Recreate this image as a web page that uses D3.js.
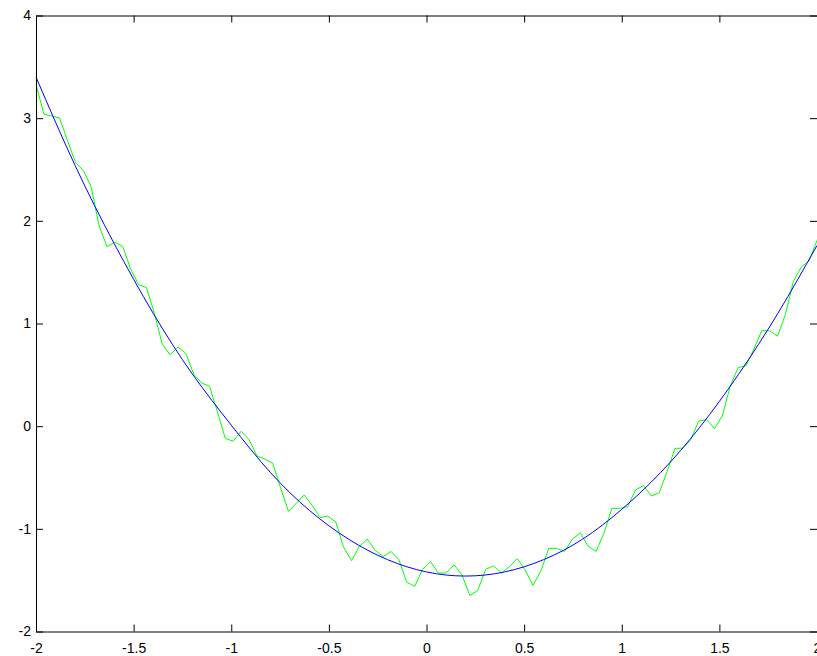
<!DOCTYPE html>
<html>
<head>
<meta charset="utf-8">
<script src="https://cdn.jsdelivr.net/npm/d3@7"></script>
<style>
  html, body { margin: 0; padding: 0; background: #fff; }
  svg { display: block; }
  text { font-family: "Liberation Sans", Arial, sans-serif; font-size: 14px; fill: #000; }
</style>
</head>
<body>
<svg id="chart" width="817" height="656"></svg>
<script>
// ---- data ----
const xTicks = [-2, -1.5, -1, -0.5, 0, 0.5, 1, 1.5, 2];
const yTicks = [-2, -1, 0, 1, 2, 3, 4];

// smooth (fitted) curve, read at x = -2, -1.8, ..., 2
const smoothX = [-2, -1.8, -1.6, -1.4, -1.2, -1.0, -0.8, -0.6, -0.4, -0.2, 0,
                 0.2, 0.4, 0.6, 0.8, 1.0, 1.2, 1.4, 1.6, 1.8, 2];
const smoothY = [3.40, 2.54, 1.78, 1.10, 0.51, 0.01, -0.45, -0.82, -1.10, -1.30, -1.42,
                 -1.46, -1.42, -1.30, -1.10, -0.81, -0.45, -0.01, 0.51, 1.10, 1.76];

// noisy data: 100 samples evenly spaced from -2 to 2
const noisyY = [
  3.33, 3.04, 3.02, 3.00, 2.78, 2.57, 2.49, 2.33, 1.95, 1.75,
  1.79, 1.75, 1.53, 1.38, 1.35, 1.10, 0.80, 0.695, 0.773, 0.708,
  0.506, 0.42, 0.39, 0.14, -0.12, -0.146, -0.05, -0.13, -0.29, -0.32,
  -0.36, -0.60, -0.83, -0.75, -0.67, -0.77, -0.89, -0.876, -0.935, -1.18,
  -1.31, -1.17, -1.10, -1.21, -1.27, -1.22, -1.30, -1.52, -1.56, -1.395,
  -1.32, -1.43, -1.43, -1.35, -1.45, -1.65, -1.60, -1.395, -1.36, -1.43,
  -1.37, -1.29, -1.40, -1.55, -1.41, -1.19, -1.19, -1.22, -1.10, -1.04,
  -1.17, -1.22, -1.04, -0.80, -0.80, -0.785, -0.62, -0.58, -0.68, -0.65,
  -0.44, -0.217, -0.214, -0.13, 0.05, 0.065, -0.025, 0.10, 0.39, 0.57,
  0.59, 0.75, 0.93, 0.93, 0.876, 1.09, 1.41, 1.55, 1.61, 1.81
];
const noisyX = d3.range(noisyY.length).map(i => -2 + 4 * i / (noisyY.length - 1));

// ---- layout ----
const svg = d3.select("#chart");
const padL = 36, padR = 817, padT = 15.5, padB = 631.5;

const x = d3.scaleLinear().domain([-2, 2]).range([padL, padR]);
const y = d3.scaleLinear().domain([-2, 4]).range([padB, padT]);

const tickLen = 7;
const fmt = d => String(d);   // plain hyphen-minus like the reference

// curves
const plot = svg.append("g");
plot.append("path")
  .datum(noisyX.map((d, i) => [d, noisyY[i]]))
  .attr("fill", "none").attr("stroke", "#00ff00").attr("stroke-width", 1)
  .attr("d", d3.line().x(d => x(d[0])).y(d => y(d[1])));

plot.append("path")
  .datum(smoothX.map((d, i) => [d, smoothY[i]]))
  .attr("fill", "none").attr("stroke", "#0000ff").attr("stroke-width", 1)
  .attr("d", d3.line().curve(d3.curveNatural).x(d => x(d[0])).y(d => y(d[1])));

// axes (MATLAB-style box with inward ticks)
const bottomAxis = d3.axisBottom(x).tickValues(xTicks).tickFormat(fmt).tickSizeInner(-tickLen).tickSizeOuter(0).tickPadding(12);
const topAxis = d3.axisTop(x).tickValues(xTicks).tickFormat("").tickSizeInner(-tickLen).tickSizeOuter(0);
const leftAxis = d3.axisLeft(y).tickValues(yTicks).tickFormat(fmt).tickSizeInner(-tickLen).tickSizeOuter(0).tickPadding(5);
const rightAxis = d3.axisRight(y).tickValues(yTicks).tickFormat("").tickSizeInner(-tickLen).tickSizeOuter(0);

function styleAxis(g) {
  g.selectAll(".domain").attr("stroke", "#000").attr("stroke-width", 1);
  g.selectAll(".tick line").attr("stroke", "#000").attr("stroke-width", 1);
  g.selectAll(".tick text").attr("font-family", "Liberation Sans, Arial, sans-serif").attr("font-size", 14).attr("fill", "#000");
}

svg.append("g").attr("transform", `translate(0,${padB})`).call(bottomAxis).call(styleAxis);
svg.append("g").attr("transform", `translate(0,${padT})`).call(topAxis).call(styleAxis);
svg.append("g").attr("transform", `translate(${padL},0)`).call(leftAxis).call(styleAxis);
svg.append("g").attr("transform", `translate(${padR},0)`).call(rightAxis).call(styleAxis);
</script>
</body>
</html>
